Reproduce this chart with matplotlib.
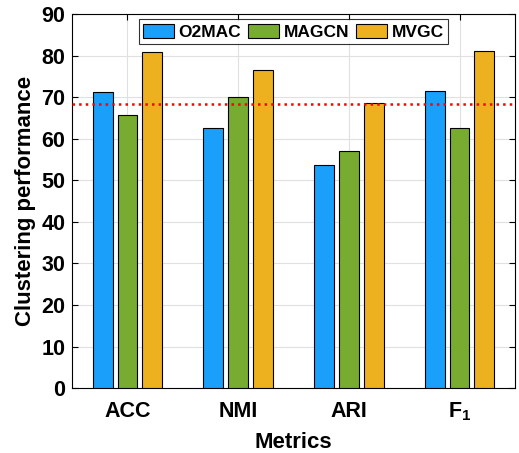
import numpy as np
import matplotlib.pyplot as plt

plt.rcParams['font.family'] = ['Liberation Sans', 'DejaVu Sans']
plt.rcParams['font.weight'] = 'bold'
plt.rcParams['mathtext.fontset'] = 'custom'
plt.rcParams['mathtext.bf'] = 'Liberation Sans:bold'
plt.rcParams['mathtext.rm'] = 'Liberation Sans:bold'

metrics = ['ACC', 'NMI', 'ARI', r'F$_{\mathbf{1}}$']
methods = ['O2MAC', 'MAGCN', 'MVGC']
o2mac = [71.2, 62.7, 53.8, 71.5]
magcn = [65.6, 70.1, 57.0, 62.7]
mvgc = [80.8, 76.5, 68.6, 81.2]
baseline = 68.4
colors = ['#1a9ffa', '#77ac30', '#edb120']

fig = plt.figure(figsize=(5.19, 4.53), dpi=100)
ax = fig.add_axes([0.139, 0.143, 0.853, 0.826])

x = np.arange(1, len(metrics) + 1)
w = 0.18
off = 0.225
for i, (vals, name) in enumerate(zip([o2mac, magcn, mvgc], methods)):
    ax.bar(x + (i - 1) * off, vals, w, color=colors[i], edgecolor='black',
           linewidth=0.8, label=name, zorder=3)

ax.axhline(baseline, color='red', linestyle=':', linewidth=1.8, zorder=4)

ax.set_xlim(0.5, 4.5)
ax.set_ylim(0, 90)
ax.set_xticks(x)
ax.set_xticklabels(metrics, fontsize=15.5, fontweight='bold')
ax.set_yticks(np.arange(0, 91, 10))
ax.tick_params(axis='y', labelsize=15.5, pad=5)
ax.tick_params(axis='x', pad=9)
ax.tick_params(direction='in', top=True, right=True, length=4, width=0.8)
ax.grid(True, color='#e0e0e0', linewidth=0.8, zorder=0)
ax.set_axisbelow(True)
for s in ax.spines.values():
    s.set_linewidth(0.8)

ax.set_xlabel('Metrics', fontsize=16, fontweight='bold', labelpad=6)
ax.set_ylabel('Clustering performance', fontsize=16, fontweight='bold', labelpad=4)

leg = ax.legend(loc='upper center', ncol=3, fontsize=12.5, frameon=True,
                fancybox=False, edgecolor='black', handlelength=1.8,
                handleheight=0.9, handletextpad=0.25, columnspacing=0.4,
                borderpad=0.25, bbox_to_anchor=(0.5, 0.995), borderaxespad=0.2)
leg.get_frame().set_linewidth(0.8)

fig.savefig('out.png', dpi=100)
